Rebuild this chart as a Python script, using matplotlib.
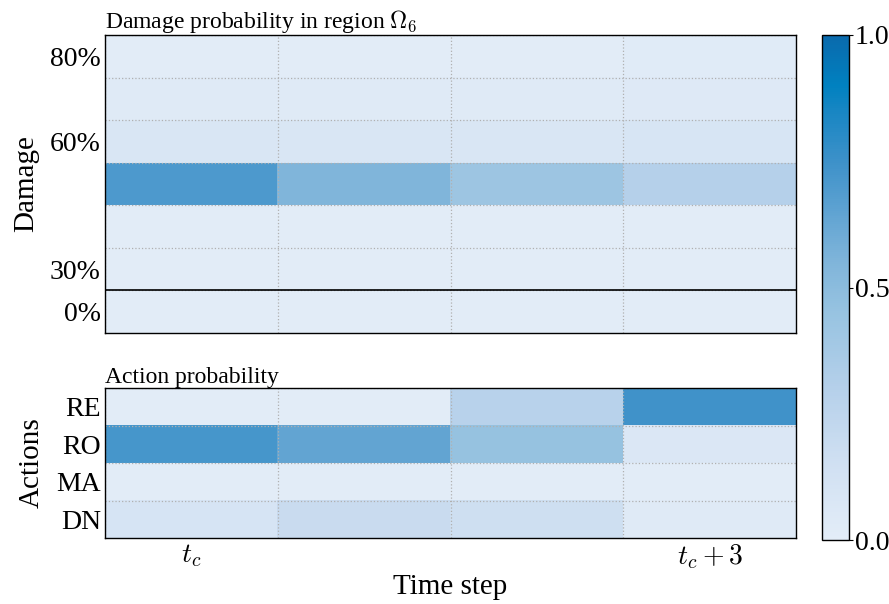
import numpy as np
import matplotlib
matplotlib.use("Agg")
import matplotlib.pyplot as plt
from matplotlib.colors import LinearSegmentedColormap

plt.rcParams["font.family"] = ["Liberation Serif", "DejaVu Serif"]
plt.rcParams["mathtext.fontset"] = "cm"

# damage levels, top row first
damage_labels = ["80%", "", "60%", "", "", "30%", "0%"]
damage_prob = np.array([
    [0.01, 0.01, 0.01, 0.02],
    [0.03, 0.03, 0.03, 0.04],
    [0.08, 0.08, 0.08, 0.09],
    [0.70, 0.55, 0.42, 0.30],
    [0.01, 0.01, 0.01, 0.01],
    [0.01, 0.01, 0.01, 0.01],
    [0.01, 0.01, 0.01, 0.01],
])

actions = ["RE", "RO", "MA", "DN"]
action_prob = np.array([
    [0.01, 0.01, 0.28, 0.74],
    [0.72, 0.64, 0.45, 0.06],
    [0.01, 0.01, 0.01, 0.01],
    [0.10, 0.19, 0.16, 0.03],
])

time_ticks = [0, 3]
time_labels = ["$t_c$", "$t_c+3$"]

cmap = LinearSegmentedColormap.from_list(
    "blues_light",
    [(0.0, "#e3edf8"), (0.15, "#d0e0f2"), (0.3, "#b5d0ea"), (0.45, "#97c3e1"),
     (0.55, "#80b5da"), (0.65, "#5fa3d2"), (0.75, "#3d91c9"), (0.85, "#1886c3"),
     (0.9, "#0081c0"), (1.0, "#0a6aad")],
)

fig = plt.figure(figsize=(8.89, 6.04), dpi=100)
ax1 = fig.add_axes([105 / 889, 1 - 333 / 604, 691 / 889, 298 / 604])
ax2 = fig.add_axes([105 / 889, 1 - 538 / 604, 691 / 889, 150 / 604])
cax = fig.add_axes([822 / 889, 1 - 540 / 604, 27 / 889, 505 / 604])


def draw_heat(ax, data, ylabels):
    im = ax.imshow(data, cmap=cmap, vmin=0, vmax=1, aspect="auto",
                   interpolation="nearest")
    nr, nc = data.shape
    ax.set_xticks(np.arange(nc) - 0.5, minor=True)
    ax.set_yticks(np.arange(nr) - 0.5, minor=True)
    ax.grid(which="minor", color="#b0b0b0", linestyle=":", linewidth=0.9)
    ax.tick_params(which="both", length=0, pad=3)
    ax.set_yticks(np.arange(nr))
    ax.set_yticklabels(ylabels, fontsize=20)
    for s in ax.spines.values():
        s.set_linewidth(1.0)
    return im


im = draw_heat(ax1, damage_prob, damage_labels)
ax1.axhline(5.5, color="black", linewidth=1.2)
ax1.set_xticks([])
ax1.set_ylabel("Damage", fontsize=21, labelpad=8)
ax1.set_title(r"Damage probability in region $\Omega_6$", fontsize=17, loc="left", pad=3)

draw_heat(ax2, action_prob, actions)
ax2.set_xticks(time_ticks)
ax2.set_xticklabels(time_labels, fontsize=20)
ax2.set_ylabel("Actions", fontsize=21, labelpad=8)
ax2.set_xlabel("Time step", fontsize=21, labelpad=2)
ax2.set_title("Action probability", fontsize=17, loc="left", pad=3)

cb = fig.colorbar(im, cax=cax, ticks=[0, 0.5, 1.0])
cb.ax.set_yticklabels(["0.0", "0.5", "1.0"], fontsize=20)
cb.ax.tick_params(length=3, pad=1)
cb.outline.set_linewidth(1.0)

fig.savefig("out.png", dpi=100)
